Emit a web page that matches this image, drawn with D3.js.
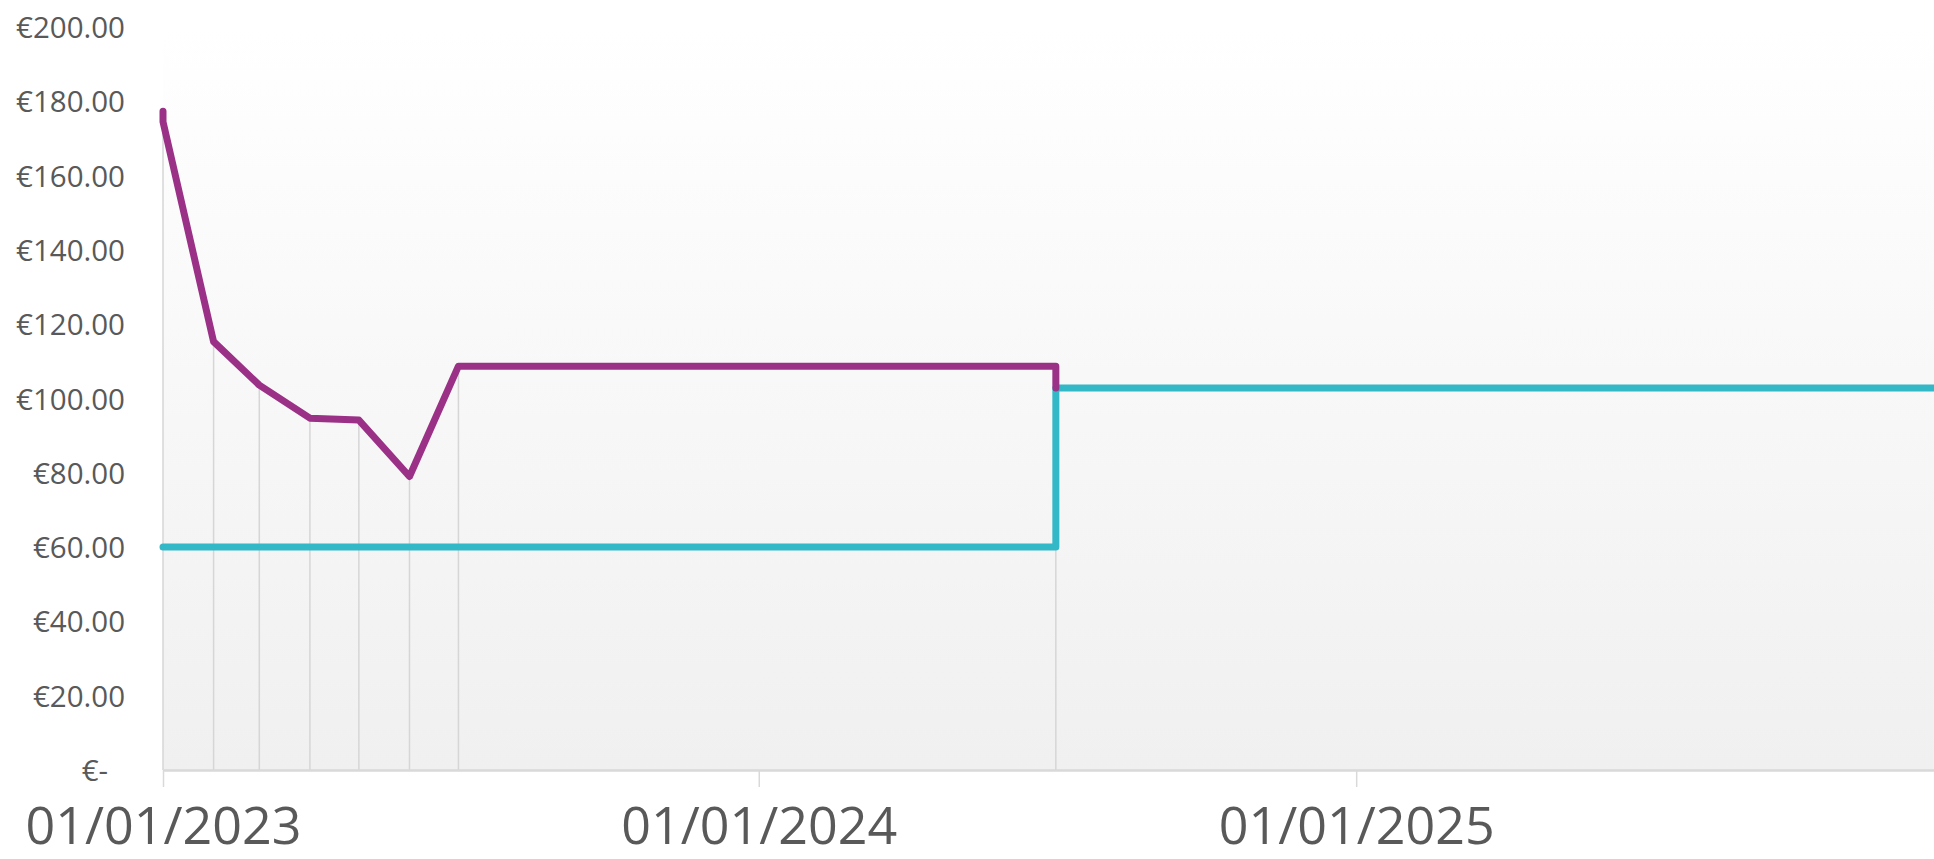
<!DOCTYPE html>
<html>
<head>
<meta charset="utf-8">
<script src="https://cdn.jsdelivr.net/npm/d3@7"></script>
<style>
  html, body { margin: 0; padding: 0; background: #ffffff; overflow: hidden; }
  svg { display: block; }
</style>
</head>
<body>
<svg id="chart" width="1934" height="859"></svg>
<script>
// ---- data ----
const purpleDates  = ["2023-01-01","2023-01-01","2023-02-01","2023-03-01","2023-04-01","2023-05-01","2023-06-01","2023-07-01","2024-07-01","2024-07-01"];
const purpleValues = [177.3, 174.5, 115.3, 103.6, 94.7, 94.2, 79.0, 108.7, 108.7, 102.8];
const tealDates    = ["2023-01-01","2024-07-01","2024-07-01","2025-12-21"];
const tealValues   = [60, 60, 102.8, 102.8];
const yTickValues  = [0, 20, 40, 60, 80, 100, 120, 140, 160, 180, 200];
const xTickDates   = ["2023-01-01","2024-01-01","2025-01-01"];
const xDomain      = ["2023-01-01","2025-12-21"];

// ---- layout ----
const plotLeft = 163, plotRight = 1934, plotTop = 27, plotBottom = 770;
const parse = d3.utcParse("%Y-%m-%d");

const x = d3.scaleUtc().domain(xDomain.map(parse)).range([plotLeft, plotRight]);
const y = d3.scaleLinear().domain([0, 200]).range([plotBottom, plotTop]);

const svg = d3.select("#chart");
const defs = svg.append("defs");
const grad = defs.append("linearGradient").attr("id", "bg")
  .attr("x1", 0).attr("y1", 0).attr("x2", 0).attr("y2", 1);
grad.append("stop").attr("offset", "0%").attr("stop-color", "#ffffff");
grad.append("stop").attr("offset", "100%").attr("stop-color", "#f0f0f0");

svg.append("rect")
  .attr("x", plotLeft).attr("y", plotTop)
  .attr("width", plotRight - plotLeft).attr("height", plotBottom - plotTop)
  .attr("fill", "url(#bg)");

const purple = purpleDates.map((d, i) => ({ date: parse(d), value: purpleValues[i] }));
const teal   = tealDates.map((d, i) => ({ date: parse(d), value: tealValues[i] }));

// drop lines from purple points
const dropMap = d3.rollup(purple, v => d3.max(v, d => d.value), d => +d.date);
const drops = Array.from(dropMap, ([t, v]) => ({ date: new Date(t), value: v }));
svg.append("g").selectAll("line").data(drops).join("line")
  .attr("x1", d => x(d.date)).attr("x2", d => x(d.date))
  .attr("y1", d => y(d.value)).attr("y2", y(0))
  .attr("stroke", "#d6d6d6").attr("stroke-width", 1.5);

// x axis
const xAxis = d3.axisBottom(x)
  .tickValues(xTickDates.map(parse))
  .tickFormat(d3.utcFormat("%d/%m/%Y"))
  .tickSize(17).tickSizeOuter(0);
const gx = svg.append("g").attr("transform", `translate(0,${y(0)})`).call(xAxis);
gx.select(".domain").attr("stroke", "#d9d9d9").attr("stroke-width", 2.5);
gx.selectAll(".tick line").attr("stroke", "#d9d9d9").attr("stroke-width", 1.5);
gx.selectAll(".tick text")
  .attr("y", 74).attr("dy", null)
  .attr("fill", "#595959")
  .style("font-family", "'Open Sans', sans-serif")
  .style("font-size", "52px");

// y axis labels
const yAxis = d3.axisLeft(y)
  .tickValues(yTickValues)
  .tickFormat(v => v === 0 ? "€-" : "€" + d3.format(".2f")(v))
  .tickSize(0);
const gy = svg.append("g").attr("transform", `translate(125,0)`).call(yAxis);
gy.select(".domain").remove();
gy.selectAll(".tick text")
  .attr("x", d => d === 0 ? -17 : 0)
  .attr("dy", "10.5px")
  .attr("fill", "#595959")
  .style("font-family", "'Open Sans', sans-serif")
  .style("font-size", "29.5px");

// series
const line = d3.line().x(d => x(d.date)).y(d => y(d.value));
svg.append("path").datum(teal)
  .attr("d", line).attr("fill", "none")
  .attr("stroke", "#33b8c7").attr("stroke-width", 7)
  .attr("stroke-linejoin", "round").attr("stroke-linecap", "round");
svg.append("path").datum(purple)
  .attr("d", line).attr("fill", "none")
  .attr("stroke", "#9b3087").attr("stroke-width", 7)
  .attr("stroke-linejoin", "round").attr("stroke-linecap", "round");
</script>
</body>
</html>
